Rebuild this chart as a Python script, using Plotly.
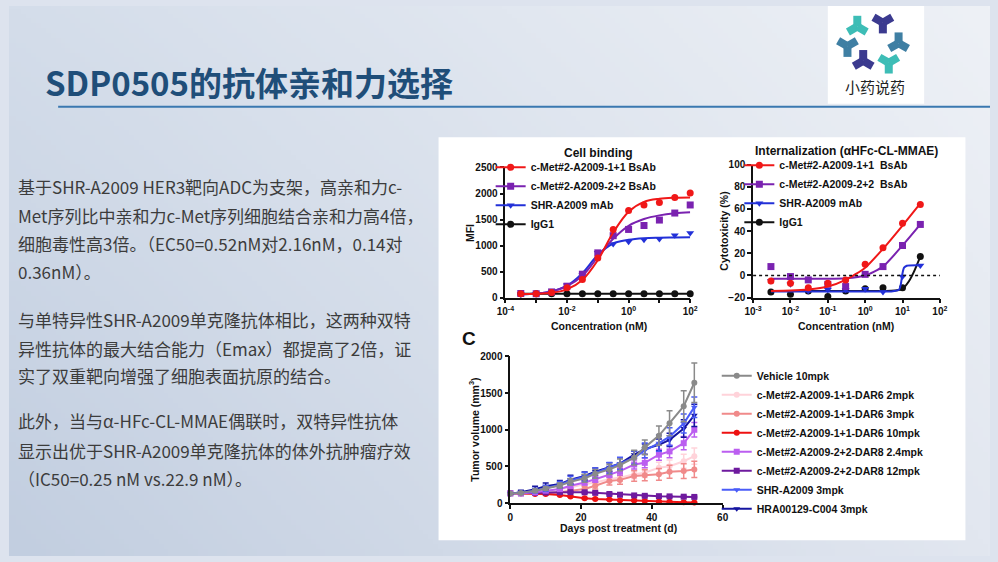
import plotly.graph_objects as go
import numpy as np, zlib, struct, base64

W, H = 998, 562
def px(x): return x / W
def py(y): return 1 - y / H

# ---------------- Data ----------------
# Panel: Cell binding
bind_conc = [0.000316, 0.001, 0.00316, 0.01, 0.0316, 0.1, 0.316, 1, 3.16, 10, 31.6, 100]
bind_red_pts = [75, 75, 100, 190, 350, 760, 1310, 1675, 1780, 1825, 1925, 2010]
bind_pur_pts = [80, 75, 110, 220, 450, 860, 1190, 1310, 1385, 1490, 1625, 1780]
bind_blu_pts = [60, 75, 100, 240, 440, 860, 1030, 1075, 1110, 1125, 1200, 1240]
bind_igg_pts = [75, 75, 75, 75, 75, 75, 75, 75, 75, 75, 75, 75]
bind_red_fit = [70, 75, 95, 160, 340, 720, 1250, 1650, 1840, 1900, 1920, 1925]
bind_pur_fit = [60, 80, 120, 220, 420, 780, 1130, 1380, 1510, 1580, 1620, 1640]
bind_blu_fit = [65, 80, 120, 230, 470, 820, 1040, 1110, 1140, 1150, 1155, 1160]
bind_igg_fit = [75, 75, 75, 75, 75, 75, 75, 75, 75, 75, 75, 75]

# Panel: Internalization
int_conc = [0.003, 0.01, 0.03, 0.1, 0.3, 1, 3, 10, 30]
int_red_pts = [-5, -7, -11, -7, -4, 10, 25, 47, 64]
int_pur_pts = [8, -1, -4, -8, -10, 1, 8, 27, 46]
int_blu_pts = [-5, -8, -14, -13, -13, -12, -15, -1, 9]
int_igg_pts = [-15, -17, -14, -19, -14, -12, -11, -11, 17]
int_red_fit = [-14, -13.6, -12.6, -10, -4, 7, 24, 45, 65]
int_pur_fit = [-3, -3, -3, -3, -2.5, 0, 8, 27, 46]
int_blu_fit_x = [0.003, 0.01, 0.1, 1, 5, 8, 9, 10, 11, 13, 30]
int_blu_fit = [-14.5, -14.5, -14.5, -14.5, -14.4, -13, -8, 2, 7, 8.8, 9.2]
int_igg_fit_x = [0.003, 0.1, 1, 5, 10, 15, 20, 30]
int_igg_fit = [-14, -14, -14, -13.8, -12, -5, 3, 17]

# Panel C: tumor growth
days = [0, 3, 7, 10, 14, 17, 21, 24, 28, 31, 35, 38, 42, 45, 49, 52]
vehicle = [130, 140, 170, 200, 240, 290, 340, 400, 460, 520, 620, 760, 920, 1090, 1320, 1640]
vehicle_err = [10, 15, 20, 25, 35, 45, 55, 60, 70, 80, 100, 100, 130, 170, 210, 270]
d11_2 = [134, 134, 147, 170, 192, 214, 259, 281, 326, 348, 393, 415, 482, 504, 571, 640]
d11_2_err = [8, 10, 15, 20, 25, 30, 35, 40, 45, 50, 60, 65, 75, 85, 95, 110]
d11_3 = [134, 134, 134, 134, 147, 170, 192, 237, 303, 317, 370, 379, 393, 428, 437, 460]
d11_3_err = [8, 10, 12, 15, 20, 25, 35, 45, 55, 60, 70, 75, 80, 90, 100, 110]
d11_10 = [134, 134, 125, 125, 112, 89, 67, 58, 49, 40, 36, 31, 22, 18, 13, 9]
d11_10_err = [6, 6, 8, 8, 10, 10, 10, 8, 8, 8, 6, 6, 5, 5, 5, 5]
d22_24 = [134, 134, 147, 170, 192, 237, 281, 326, 393, 437, 527, 549, 660, 705, 817, 1000]
d22_24_err = [8, 10, 15, 20, 25, 30, 35, 40, 45, 55, 60, 65, 75, 85, 90, 100]
d22_12 = [134, 134, 140, 145, 150, 150, 148, 140, 125, 115, 105, 100, 95, 92, 88, 85]
d22_12_err = [8, 8, 10, 10, 10, 12, 12, 12, 10, 10, 10, 10, 10, 10, 10, 10]
shr = [130, 140, 170, 200, 250, 310, 360, 410, 480, 540, 620, 720, 817, 906, 1085, 1308]
shr_err = [10, 20, 30, 40, 45, 55, 60, 70, 75, 85, 90, 100, 110, 120, 130, 140]
hra = [130, 150, 190, 230, 260, 320, 370, 430, 490, 540, 661, 737, 795, 862, 1018, 1196]
hra_err = [10, 25, 40, 45, 50, 60, 55, 50, 60, 80, 50, 70, 80, 90, 120, 150]

# ---------------- Background gradient image ----------------
def gradient_png(w, h, tl, tr, bl, br):
    fx = np.linspace(0, 1, w)[None, :, None]
    fy = np.linspace(0, 1, h)[:, None, None]
    tl, tr, bl, br = [np.array(c, float)[None, None, :] for c in (tl, tr, bl, br)]
    top = tl + (tr - tl) * fx
    bot = bl + (br - bl) * fx
    arr = (top + (bot - top) * fy).clip(0, 255).astype(np.uint8)
    raw = b''.join(b'\x00' + arr[r].tobytes() for r in range(h))
    def chunk(tag, data):
        return struct.pack('>I', len(data)) + tag + data + struct.pack('>I', zlib.crc32(tag + data) & 0xffffffff)
    png = b'\x89PNG\r\n\x1a\n' + chunk(b'IHDR', struct.pack('>IIBBBBB', w, h, 8, 2, 0, 0, 0)) \
        + chunk(b'IDAT', zlib.compress(raw, 9)) + chunk(b'IEND', b'')
    return 'data:image/png;base64,' + base64.b64encode(png).decode()

bg_uri = gradient_png(200, 113, (212, 221, 234), (238, 241, 246), (194, 206, 224), (226, 231, 240))

AX_FONT = dict(family="Liberation Sans, Arial, sans-serif", size=10, color="#111111", weight="bold")
LEG_FONT = dict(family="Liberation Sans, Arial, sans-serif", size=10.5, color="#111111", weight="bold")

fig = go.Figure()

RED, PUR, BLU, BLK = "#f01818", "#7a22b0", "#2230d8", "#111111"

# ---- Panel 1: Cell binding (x, y) ----
series1 = [("c-Met#2-A2009-1+1 BsAb", RED, "circle", bind_red_pts, bind_red_fit),
           ("c-Met#2-A2009-2+2 BsAb", PUR, "square", bind_pur_pts, bind_pur_fit),
           ("SHR-A2009 mAb", BLU, "triangle-down", bind_blu_pts, bind_blu_fit),
           ("IgG1", BLK, "circle", bind_igg_pts, bind_igg_fit)]
for name, col, sym, pts, fit in reversed(series1):
    fig.add_trace(go.Scatter(x=bind_conc, y=fit, mode="lines", line=dict(color=col, width=2, shape="spline"),
                             showlegend=False, xaxis="x", yaxis="y", hoverinfo="skip"))
    fig.add_trace(go.Scatter(x=bind_conc, y=pts, mode="markers", marker=dict(color=col, symbol=sym, size=7),
                             showlegend=False, xaxis="x", yaxis="y", cliponaxis=False))
for name, col, sym, pts, fit in series1:
    fig.add_trace(go.Scatter(x=[None], y=[None], mode="lines+markers", name=name,
                             line=dict(color=col, width=2), marker=dict(color=col, symbol=sym, size=7),
                             xaxis="x", yaxis="y", legend="legend"))

# ---- Panel 2: Internalization (x2, y2) ----
series2 = [("c-Met#2-A2009-1+1  BsAb", RED, "circle", int_red_pts, int_conc, int_red_fit),
           ("c-Met#2-A2009-2+2  BsAb", PUR, "square", int_pur_pts, int_conc, int_pur_fit),
           ("SHR-A2009 mAb", BLU, "triangle-down", int_blu_pts, int_blu_fit_x, int_blu_fit),
           ("IgG1", BLK, "circle", int_igg_pts, int_igg_fit_x, int_igg_fit)]
for name, col, sym, pts, fx, fit in reversed(series2):
    fig.add_trace(go.Scatter(x=fx, y=fit, mode="lines", line=dict(color=col, width=2, shape="spline", smoothing=0.6),
                             showlegend=False, xaxis="x2", yaxis="y2", hoverinfo="skip"))
    fig.add_trace(go.Scatter(x=int_conc, y=pts, mode="markers", marker=dict(color=col, symbol=sym, size=7),
                             showlegend=False, xaxis="x2", yaxis="y2", cliponaxis=False))
for name, col, sym, pts, fx, fit in series2:
    fig.add_trace(go.Scatter(x=[None], y=[None], mode="lines+markers", name=name,
                             line=dict(color=col, width=2), marker=dict(color=col, symbol=sym, size=7),
                             xaxis="x2", yaxis="y2", legend="legend2"))

# ---- Panel 3: Tumor volume (x3, y3) ----
series3 = [("Vehicle 10mpk", "#8a8a8a", "circle", vehicle, vehicle_err, 1),
           ("c-Met#2-A2009-1+1-DAR6 2mpk", "#ffd3da", "circle", d11_2, d11_2_err, 2),
           ("c-Met#2-A2009-1+1-DAR6 3mpk", "#f08a8a", "circle", d11_3, d11_3_err, 3),
           ("c-Met#2-A2009-1+1-DAR6 10mpk", "#ee1111", "circle", d11_10, d11_10_err, 4),
           ("c-Met#2-A2009-2+2-DAR8 2.4mpk", "#bb5ef0", "square", d22_24, d22_24_err, 5),
           ("c-Met#2-A2009-2+2-DAR8 12mpk", "#6e1a9e", "square", d22_12, d22_12_err, 6),
           ("SHR-A2009 3mpk", "#4a5cf8", "triangle-down", shr, shr_err, 7),
           ("HRA00129-C004 3mpk", "#1515a0", "triangle-down", hra, hra_err, 8)]
draw_order = [1, 2, 3, 5, 4, 7, 6, 0]
for i in draw_order:
    name, col, sym, vals, err, rank = series3[i]
    fig.add_trace(go.Scatter(x=days, y=vals, mode="lines+markers", name=name,
                             line=dict(color=col, width=2), marker=dict(color=col, symbol=sym, size=6),
                             error_y=dict(type="data", array=err, visible=True, color=col, thickness=1.5, width=3),
                             xaxis="x3", yaxis="y3", legend="legend3", legendrank=rank, cliponaxis=False))

# ---------------- Axes ----------------
axis_common = dict(showline=True, linecolor="#111111", linewidth=1.6, ticks="outside", ticklen=4,
                   tickwidth=1.5, tickcolor="#111111", showgrid=False, zeroline=False,
                   tickfont=AX_FONT, fixedrange=True)

layout = dict(
    width=W, height=H, margin=dict(l=0, r=0, t=0, b=0),
    paper_bgcolor="#dde3ee", plot_bgcolor="rgba(0,0,0,0)",
    xaxis=dict(domain=[px(505), px(693)], type="log", range=[-4, 2], anchor="y",
               tickvals=[1e-4, 1e-2, 1, 100],
               ticktext=["10<sup>-4</sup>", "10<sup>-2</sup>", "10<sup>0</sup>", "10<sup>2</sup>"],
               minor=dict(tickvals=[1e-3, 1e-1, 10], ticks="outside", ticklen=4, tickwidth=1.5,
                          tickcolor="#111111", showgrid=False),
               **axis_common),
    yaxis=dict(domain=[py(298), py(165)], range=[0, 2500], anchor="x",
               tickvals=[0, 500, 1000, 1500, 2000, 2500], **axis_common),
    xaxis2=dict(domain=[px(757), px(947)], type="log", range=[-3, 2], anchor="y2",
                tickvals=[1e-3, 1e-2, 1e-1, 1, 10, 100],
                ticktext=["10<sup>-3</sup>", "10<sup>-2</sup>", "10<sup>-1</sup>", "10<sup>0</sup>",
                          "10<sup>1</sup>", "10<sup>2</sup>"], **axis_common),
    yaxis2=dict(domain=[py(298), py(162)], range=[-20, 100], anchor="x2",
                tickvals=[-20, 0, 20, 40, 60, 80, 100], **axis_common),
    xaxis3=dict(domain=[px(510), px(726)], range=[0, 60], anchor="y3",
                tickvals=[0, 20, 40, 60], **axis_common),
    yaxis3=dict(domain=[py(508), py(358)], range=[0, 2000], anchor="x3",
                tickvals=[0, 500, 1000, 1500, 2000], **axis_common),
    legend=dict(x=px(490), y=py(150), xanchor="left", yanchor="top", bgcolor="rgba(0,0,0,0)",
                font=LEG_FONT, itemsizing="trace", tracegroupgap=0),
    legend2=dict(x=px(743), y=py(148), xanchor="left", yanchor="top", bgcolor="rgba(0,0,0,0)",
                 font=LEG_FONT, itemsizing="trace", tracegroupgap=0),
    legend3=dict(x=px(720), y=py(363), xanchor="left", yanchor="top", bgcolor="rgba(0,0,0,0)",
                 font=LEG_FONT, itemsizing="trace", tracegroupgap=0),
    showlegend=True,
    images=[dict(source=bg_uri, xref="paper", yref="paper", x=0, y=1, sizex=1, sizey=1,
                 sizing="stretch", xanchor="left", yanchor="top", layer="below")],
)
fig.update_layout(**layout)

# ---------------- Shapes ----------------
shapes = []
# white chart panel
shapes.append(dict(type="rect", xref="paper", yref="paper", x0=px(437), x1=px(973), y0=py(546), y1=py(134),
                   fillcolor="white", line=dict(width=0), layer="below"))
# logo box
shapes.append(dict(type="rect", xref="paper", yref="paper", x0=px(833), x1=px(931), y0=py(100), y1=py(0),
                   fillcolor="white", line=dict(width=0), layer="below"))
# title underline
shapes.append(dict(type="line", xref="paper", yref="paper", x0=px(50), x1=px(998), y0=py(103), y1=py(103),
                   line=dict(color="#3a78b0", width=2)))
# dotted zero line in internalization panel
shapes.append(dict(type="line", xref="x2 domain", yref="y2", x0=0, x1=1, y0=0, y1=0,
                   line=dict(color="#111111", width=1.5, dash="dot")))
# logo tri-arm pieces
TEAL, NAVY, STEEL = "#3dbdb6", "#3b3a8f", "#3f7fa3"
logo_pieces = [(863, 21, TEAL, 90), (889, 17, NAVY, 270), (853, 41, STEEL, 270),
               (905, 38, STEEL, 90), (869, 56, NAVY, 90), (895, 58, TEAL, 270)]
for cx, cy, col, base in logo_pieces:
    for k in range(3):
        ang = np.deg2rad(base + 120 * k)
        ex, ey = cx + 11 * np.cos(ang), cy - 11 * np.sin(ang)
        shapes.append(dict(type="line", xref="paper", yref="paper", x0=px(cx), y0=py(cy), x1=px(ex), y1=py(ey),
                           line=dict(color=col, width=8)))
fig.update_layout(shapes=shapes)

# ---------------- Annotations ----------------
ann = []
def text(x, y, s, size, color="#111111", bold=False, family="Liberation Sans, Arial, sans-serif",
         xanchor="center", angle=0):
    ann.append(dict(x=px(x), y=py(y), xref="paper", yref="paper", text=s, showarrow=False,
                    xanchor=xanchor, yanchor="middle", textangle=angle,
                    font=dict(size=size, color=color, family=family, weight="bold" if bold else "normal")))

CJK = "Noto Sans CJK SC, Microsoft YaHei, sans-serif"
text(35, 78, "SDP0505的抗体亲和力选择", 33, color="#1f4e79", bold=True, family=CJK, xanchor="left")
text(881, 82, "小药说药", 15, color="#222222", family=CJK)

body = [(184, "基于SHR-A2009 HER3靶向ADC为支架，高亲和力c-"),
        (214, "Met序列比中亲和力c-Met序列细胞结合亲和力高4倍，"),
        (243, "细胞毒性高3倍。（EC50=0.52nM对2.16nM，0.14对"),
        (271, "0.36nM）。"),
        (320, "与单特异性SHR-A2009单克隆抗体相比，这两种双特"),
        (350, "异性抗体的最大结合能力（Emax）都提高了2倍，证"),
        (378, "实了双重靶向增强了细胞表面抗原的结合。"),
        (424, "此外，当与α-HFc-CL-MMAE偶联时，双特异性抗体"),
        (454, "显示出优于SHR-A2009单克隆抗体的体外抗肿瘤疗效"),
        (483, "（IC50=0.25 nM vs.22.9 nM）。")]
for y, s in body:
    text(7, y, s, 17, color="#3c3c3c", family=CJK, xanchor="left")

text(600, 150, "Cell binding", 12, bold=True)
text(852, 148, "Internalization (αHFc-CL-MMAE)", 12, bold=True)
text(600, 327, "Concentration (nM)", 10.5, bold=True)
text(852, 327, "Concentration (nM)", 10.5, bold=True)
text(469, 232, "MFI", 10.5, bold=True, angle=-90)
text(727, 230, "Cytotoxicity (%)", 10.5, bold=True, angle=-90)
text(468, 340, "C", 19, bold=True)
text(620, 533, "Days post treatment (d)", 10.5, bold=True)
text(473, 433, "Tumor volume (mm<sup>3</sup>)", 10.5, bold=True, angle=-90)
fig.update_layout(annotations=ann)

fig.write_html("out.html")
